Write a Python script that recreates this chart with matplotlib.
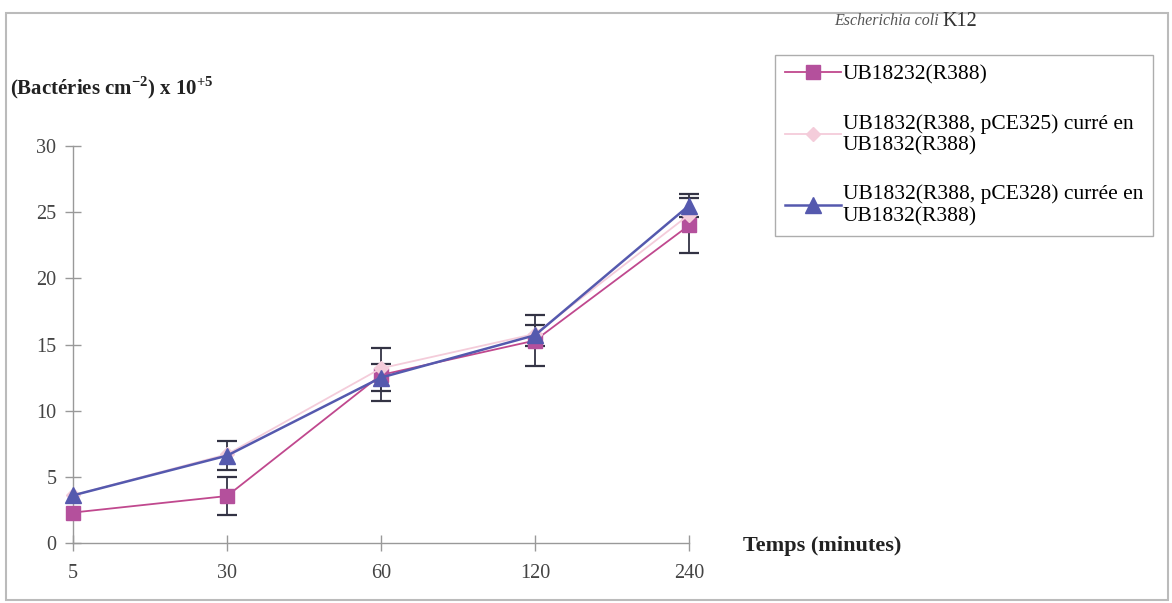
import matplotlib.pyplot as plt
import matplotlib.patches as mpatches
import numpy as np

temps = ["5", "30", "60", "120", "240"]
ub18232 = [2.3, 3.55, 12.7, 15.3, 24.0]
ub18232_err = [0, 1.45, 2.0, 1.9, 2.1]
pce325 = [3.6, 6.7, 13.2, 15.8, 24.8]
pce328 = [3.6, 6.6, 12.5, 15.7, 25.5]
pce328_err = [0, 1.1, 1.05, 0.8, 0.9]

labels = ["UB18232(R388)",
          "UB1832(R388, pCE325) curré en\nUB1832(R388)",
          "UB1832(R388, pCE328) currée en\nUB1832(R388)"]

plt.rcParams["font.family"] = ["Liberation Serif", "DejaVu Serif"]
plt.rcParams["mathtext.fontset"] = "custom"
plt.rcParams["mathtext.rm"] = "Liberation Serif"
plt.rcParams["mathtext.bf"] = "Liberation Serif:bold"

W, H = 1172, 603
fig = plt.figure(figsize=(W / 100, H / 100), dpi=100)
ax = fig.add_axes([73 / W, 1 - 543 / H, (689 - 73) / W, (543 - 146) / H])

x = np.arange(len(temps))
c_mag = "#B4509C"
c_pink = "#F4CCDA"
c_blue = "#5559AE"

for vals, errs in [(ub18232, ub18232_err), (pce328, pce328_err)]:
    idx = [i for i, e in enumerate(errs) if e > 0]
    ax.errorbar(x[idx], [vals[i] for i in idx], yerr=[errs[i] for i in idx],
                fmt="none", ecolor="#333344", elinewidth=1.3, capsize=7,
                capthick=1.6, clip_on=False, zorder=2)

ax.plot(x, ub18232, color="#C0488E", lw=1.3, marker="s", ms=10,
        mfc=c_mag, mec=c_mag, clip_on=False, zorder=3, label=labels[0])
ax.plot(x, pce325, color=c_pink, lw=1.3, marker="D", ms=7,
        mfc=c_pink, mec=c_pink, clip_on=False, zorder=3, label=labels[1])
ax.plot(x, pce328, color=c_blue, lw=1.8, marker="^", ms=11,
        mfc=c_blue, mec=c_blue, clip_on=False, zorder=4, label=labels[2])

ax.set_xlim(0, 4)
ax.set_ylim(0, 30)
ax.set_xticks(x)
ax.set_xticklabels(temps)
ax.set_yticks([0, 5, 10, 15, 20, 25, 30])
for s in ["top", "right"]:
    ax.spines[s].set_visible(False)
for s in ["left", "bottom"]:
    ax.spines[s].set_color("#999999")
    ax.spines[s].set_linewidth(1.0)
ax.tick_params(axis="both", direction="inout", length=12, width=1.0,
               color="#999999", labelsize=14.5, labelcolor="#444444")
ax.tick_params(axis="x", pad=9)
ax.tick_params(axis="y", pad=6)

fig.text(10 / W, 1 - 88 / H, r"(Bactéries cm$^{\mathbf{-2}}$) x 10$^{\mathbf{+5}}$",
         fontsize=15, fontweight="bold", va="center", ha="left", color="#222222")
fig.text(743 / W, 1 - 546 / H, "Temps (minutes)", fontsize=16,
         fontweight="bold", va="center", ha="left", color="#222222")
fig.text(834 / W, 1 - 21 / H, "Escherichia coli", fontsize=11.5,
         style="italic", va="center", ha="left", color="#555555")
fig.text(942 / W, 1 - 21 / H, "K12", fontsize=14.5, va="center", ha="left",
         color="#333333")

leg = fig.legend(loc="upper left", bbox_to_anchor=(775 / W, 1 - 55 / H),
                 fontsize=15.5, frameon=True, fancybox=False, handlelength=2.6,
                 handletextpad=0.1, labelspacing=1.35, borderpad=0.45,
                 borderaxespad=0)
leg.get_frame().set_edgecolor("#999999")
leg.get_frame().set_linewidth(1.0)

fig.patches.append(mpatches.Rectangle((6 / W, 3 / H), (1168 - 6) / W, (600 - 13) / H,
                                      transform=fig.transFigure, fill=False,
                                      edgecolor="#bbbbbb", lw=1.5))

fig.savefig("out.png", dpi=100)
